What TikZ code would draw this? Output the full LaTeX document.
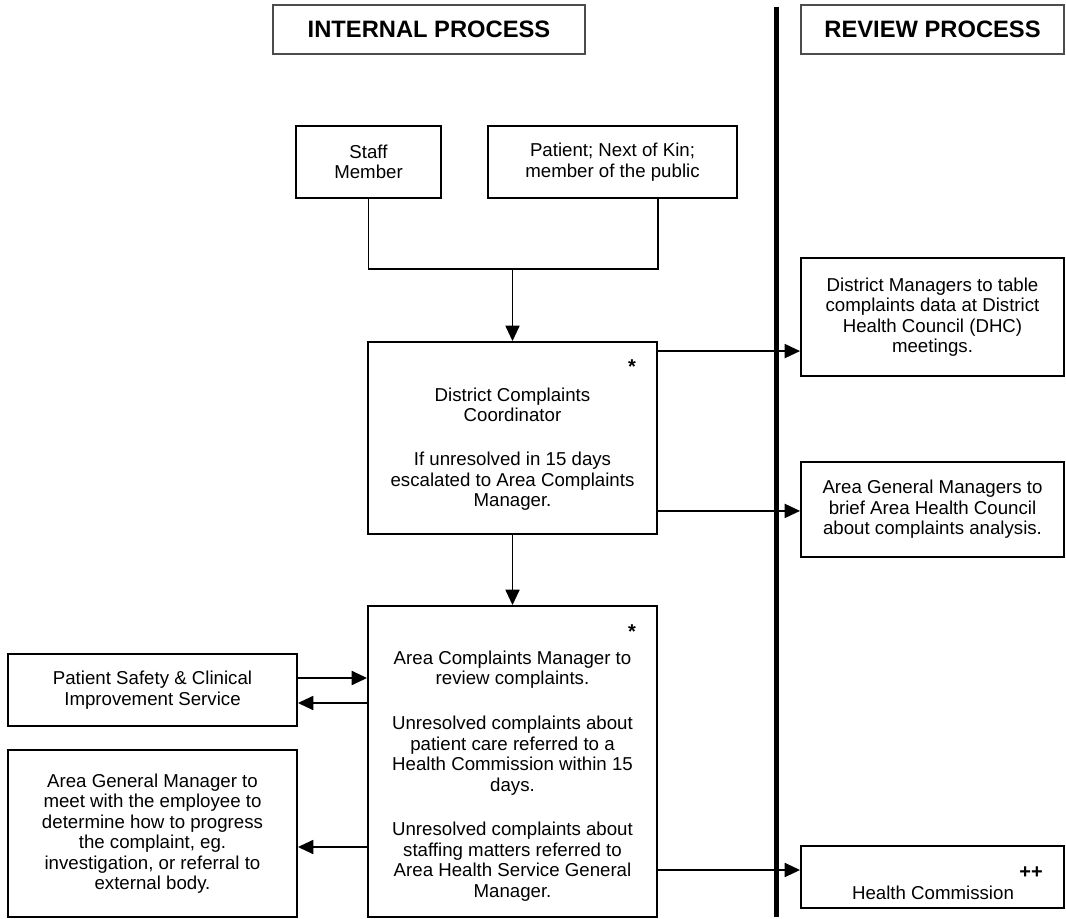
\documentclass[tikz,border=0pt]{standalone}
\usepackage{fontspec}
\setmainfont{Liberation Sans}
\usetikzlibrary{arrows.meta,calc}

\tikzset{
	box/.style={draw, line width=1.4pt, align=center, inner sep=0pt},
	headbox/.style={draw=black!70, line width=0.9pt, inner sep=0pt, font=\fontsize{17.8}{21}\selectfont\bfseries},
	txt/.style={align=center, inner sep=0pt},
	mark star/.style={inner sep=0pt, font=\fontsize{15}{16}\selectfont\bfseries},
	link/.style={line width=1.3pt},
	arr/.style={-{Triangle[length=11.5pt,width=10.5pt]}, line width=1.3pt}
}

\begin{document}
\begin{tikzpicture}[x=0.75pt, y=-0.75pt, font=\fontsize{14}{15.4}\selectfont]
				% page setup
				\useasboundingbox (0,0) rectangle (1066,919);
				
				\def\divx{776.5}
				\def\divtop{7}
				\def\divbot{917}
				
				% headings
				\node[headbox, minimum width=234pt, minimum height=36.75pt] (intl) at (429,29.5) {INTERNAL PROCESS};
				\node[headbox, minimum width=197.25pt, minimum height=36.75pt] (rev) at (932.5,29.5) {REVIEW PROCESS};
				
				% divider
				\coordinate (dtop) at (\divx,\divtop);
				\coordinate (dbot) at (\divx,\divbot);
				\draw[line width=3.75pt] (dtop) -- (dbot);
				
				% internal process
				\node[box, minimum width=108.75pt, minimum height=54pt] (staff) at (368.5,162) {Staff\\Member};
				\node[box, minimum width=186.75pt, minimum height=54pt] (patient) at (612.5,162) {Patient; Next of Kin;\\member of the public};
				
				\node[box, minimum width=216.75pt, minimum height=144pt] (dcc) at (512.5,438) {};
				\node[txt] (dcctext) at (512.5,449) {District Complaints\\Coordinator\\[17.5pt]If unresolved in 15 days\\escalated to Area Complaints\\Manager.};
				\node[mark star] (dccstar) at (632,367) {*};
				
				\node[box, minimum width=216.75pt, minimum height=233.25pt] (acm) at (512.5,761.5) {};
				\node[txt] (acmtext) at (512.5,776) {Area Complaints Manager to\\review complaints.\\[18pt]Unresolved complaints about\\patient care referred to a\\Health Commission within 15\\days.\\[18pt]Unresolved complaints about\\staffing matters referred to\\Area Health Service General\\Manager.};
				\node[mark star] (acmstar) at (632,632) {*};
				
				\node[box, minimum width=216.75pt, minimum height=54pt] (pscis) at (152.5,690) {Patient Safety \& Clinical\\Improvement Service};
				\node[box, minimum width=216.75pt, minimum height=125.25pt] (agme) at (152.5,833.5) {Area General Manager to\\meet with the employee to\\determine how to progress\\the complaint, eg.\\investigation, or referral to\\external body.};
				
				% review process
				\node[box, minimum width=197.25pt, minimum height=88.5pt] (dm) at (932.5,317) {District Managers to table\\complaints data at District\\Health Council (DHC)\\meetings.};
				\node[box, minimum width=197.25pt, minimum height=71.25pt] (agm) at (932.5,509.5) {Area General Managers to\\brief Area Health Council\\about complaints analysis.};
				\node[box, minimum width=197.25pt, minimum height=46.5pt] (hc) at (932.5,877) {};
				\node[txt] (hctext) at (933,893) {Health Commission};
				\node[mark star] (hcplus) at (1031,873) {++};
				
				% connectors
				\coordinate (join) at (512.5,269);
				\draw[link] (staff.south) |- (join) -| (patient.south -| dcc.east);
				\draw[arr] (join) -- (dcc.north);
				\draw[arr] (dcc.south) -- (acm.north);
				
				\coordinate (dccout) at ($(dcc.north east)+(0,10)$);
				\coordinate (dccbrief) at ($(dcc.south east)+(0,-24)$);
				\draw[arr] (dccout) -- (dccout -| dm.west);
				\draw[arr] (dccbrief) -- (dccbrief -| agm.west);
				
				\coordinate (pscisout) at ($(pscis.east)+(0,-12)$);
				\coordinate (pscisin) at ($(pscis.east)+(0,13)$);
				\draw[arr] (pscisout) -- (pscisout -| acm.west);
				\draw[arr] (pscisin -| acm.west) -- (pscisin);
				
				\coordinate (agmein) at ($(agme.east)+(0,13.5)$);
				\draw[arr] (agmein -| acm.west) -- (agmein);
				
				\coordinate (acmout) at ($(acm.east)+(0,108.5)$);
				\draw[arr] (acmout) -- (acmout -| hc.west);
\end{tikzpicture}
\end{document}
